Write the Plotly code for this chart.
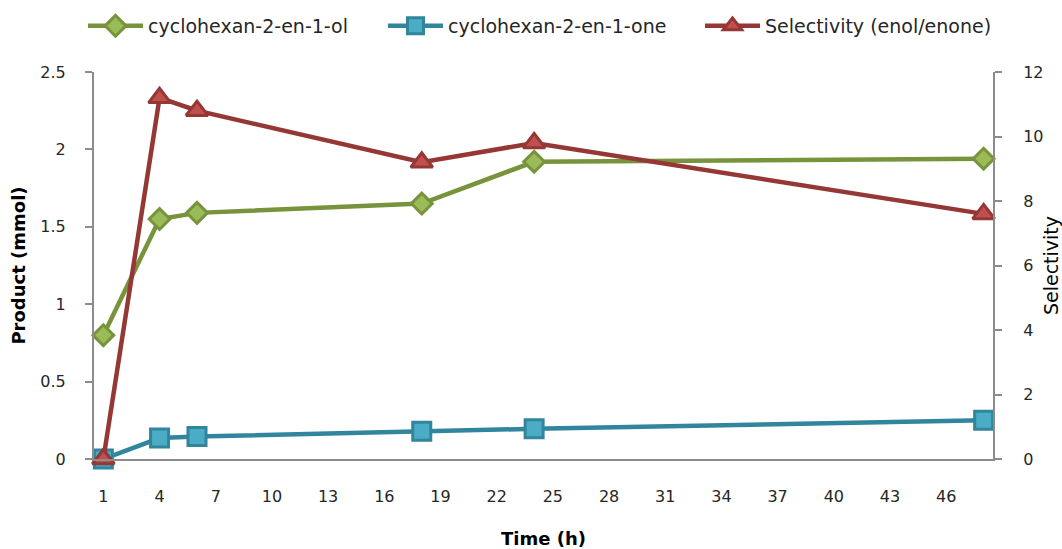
import plotly.graph_objects as go

# Reaction time (h) and measured amounts
time_h = [1, 4, 6, 18, 24, 48]
enol_mmol = [0.80, 1.55, 1.59, 1.65, 1.92, 1.94]
enone_mmol = [0.00, 0.135, 0.145, 0.18, 0.195, 0.25]
selectivity = [0.0, 11.2, 10.8, 9.2, 9.8, 7.6]

# Axis labelling
x_label_vals = list(range(1, 47, 3))
x_tick_vals = [0.5 + 3 * i for i in range(17)]

FONT = "DejaVu Sans"
AXIS_GREY = "#8c8c8c"
TEXT = "#262626"
W, H = 1062, 549

fig = go.Figure()

fig.add_trace(go.Scatter(
    x=time_h, y=enol_mmol, name="cyclohexan-2-en-1-ol", legend="legend",
    mode="lines+markers", cliponaxis=False,
    line=dict(color="#77933C", width=4.5),
    marker=dict(symbol="diamond", size=16, color="#9BBB59",
                line=dict(color="#77933C", width=3)),
))
fig.add_trace(go.Scatter(
    x=time_h, y=enone_mmol, name="cyclohexan-2-en-1-one", legend="legend2",
    mode="lines+markers", cliponaxis=False,
    line=dict(color="#31859C", width=4.5),
    marker=dict(symbol="square", size=18, color="#4BACC6",
                line=dict(color="#31859C", width=3)),
))
fig.add_trace(go.Scatter(
    x=time_h, y=selectivity, name="Selectivity (enol/enone)", legend="legend3",
    mode="lines+markers", cliponaxis=False, yaxis="y2",
    line=dict(color="#953735", width=4.5),
    marker=dict(symbol="triangle-up", size=19, color="#C0504D",
                line=dict(color="#953735", width=3)),
))


def legend_box(left_px):
    return dict(
        orientation="h", xref="container", yref="container",
        x=left_px / W, xanchor="left", y=1 - 26 / H, yanchor="middle",
        font=dict(family=FONT, size=19, color=TEXT),
        itemwidth=55, bgcolor="rgba(0,0,0,0)", borderwidth=0,
    )


fig.update_layout(
    width=W, height=H,
    margin=dict(l=94, r=69, t=72, b=90, autoexpand=False),
    paper_bgcolor="white", plot_bgcolor="white",
    font=dict(family=FONT, size=16, color=TEXT),
    showlegend=True,
    legend=legend_box(83),
    legend2=legend_box(383),
    legend3=legend_box(700),
    xaxis=dict(
        range=[0.5, 48.5], tickmode="array", tickvals=x_label_vals,
        ticktext=[str(v) for v in x_label_vals], ticks="",
        ticklabelstandoff=22, automargin=False,
        showline=True, linecolor=AXIS_GREY, linewidth=2,
        showgrid=False, zeroline=False,
        title=dict(text="<b>Time (h)</b>", font=dict(size=18, color="black"), standoff=30),
    ),
    xaxis2=dict(
        range=[0.5, 48.5], overlaying="x", anchor="y", side="bottom",
        tickmode="array", tickvals=x_tick_vals, ticks="outside",
        ticklen=7, tickwidth=2, tickcolor=AXIS_GREY, automargin=False,
        showticklabels=False, showline=False, showgrid=False, zeroline=False,
    ),
    yaxis=dict(
        range=[0, 2.5], tickmode="array", tickvals=[0, 0.5, 1, 1.5, 2, 2.5],
        ticktext=["0", "0.5", "1", "1.5", "2", "2.5"],
        ticks="outside", ticklen=7, tickwidth=2, tickcolor=AXIS_GREY,
        ticklabelstandoff=16, automargin=False,
        showline=True, linecolor=AXIS_GREY, linewidth=2,
        showgrid=False, zeroline=False,
        title=dict(text="<b>Product (mmol)</b>", font=dict(size=18, color="black"), standoff=10),
    ),
    yaxis2=dict(
        range=[0, 12], overlaying="y", side="right", anchor="x",
        tickmode="array", tickvals=[0, 2, 4, 6, 8, 10, 12],
        ticks="outside", ticklen=7, tickwidth=2, tickcolor=AXIS_GREY,
        ticklabelstandoff=18, automargin=False,
        showline=True, linecolor=AXIS_GREY, linewidth=2,
        showgrid=False, zeroline=False,
        title=dict(text="Selectivity", font=dict(size=19, color="black"), standoff=2),
    ),
)

fig.write_html("out.html")
